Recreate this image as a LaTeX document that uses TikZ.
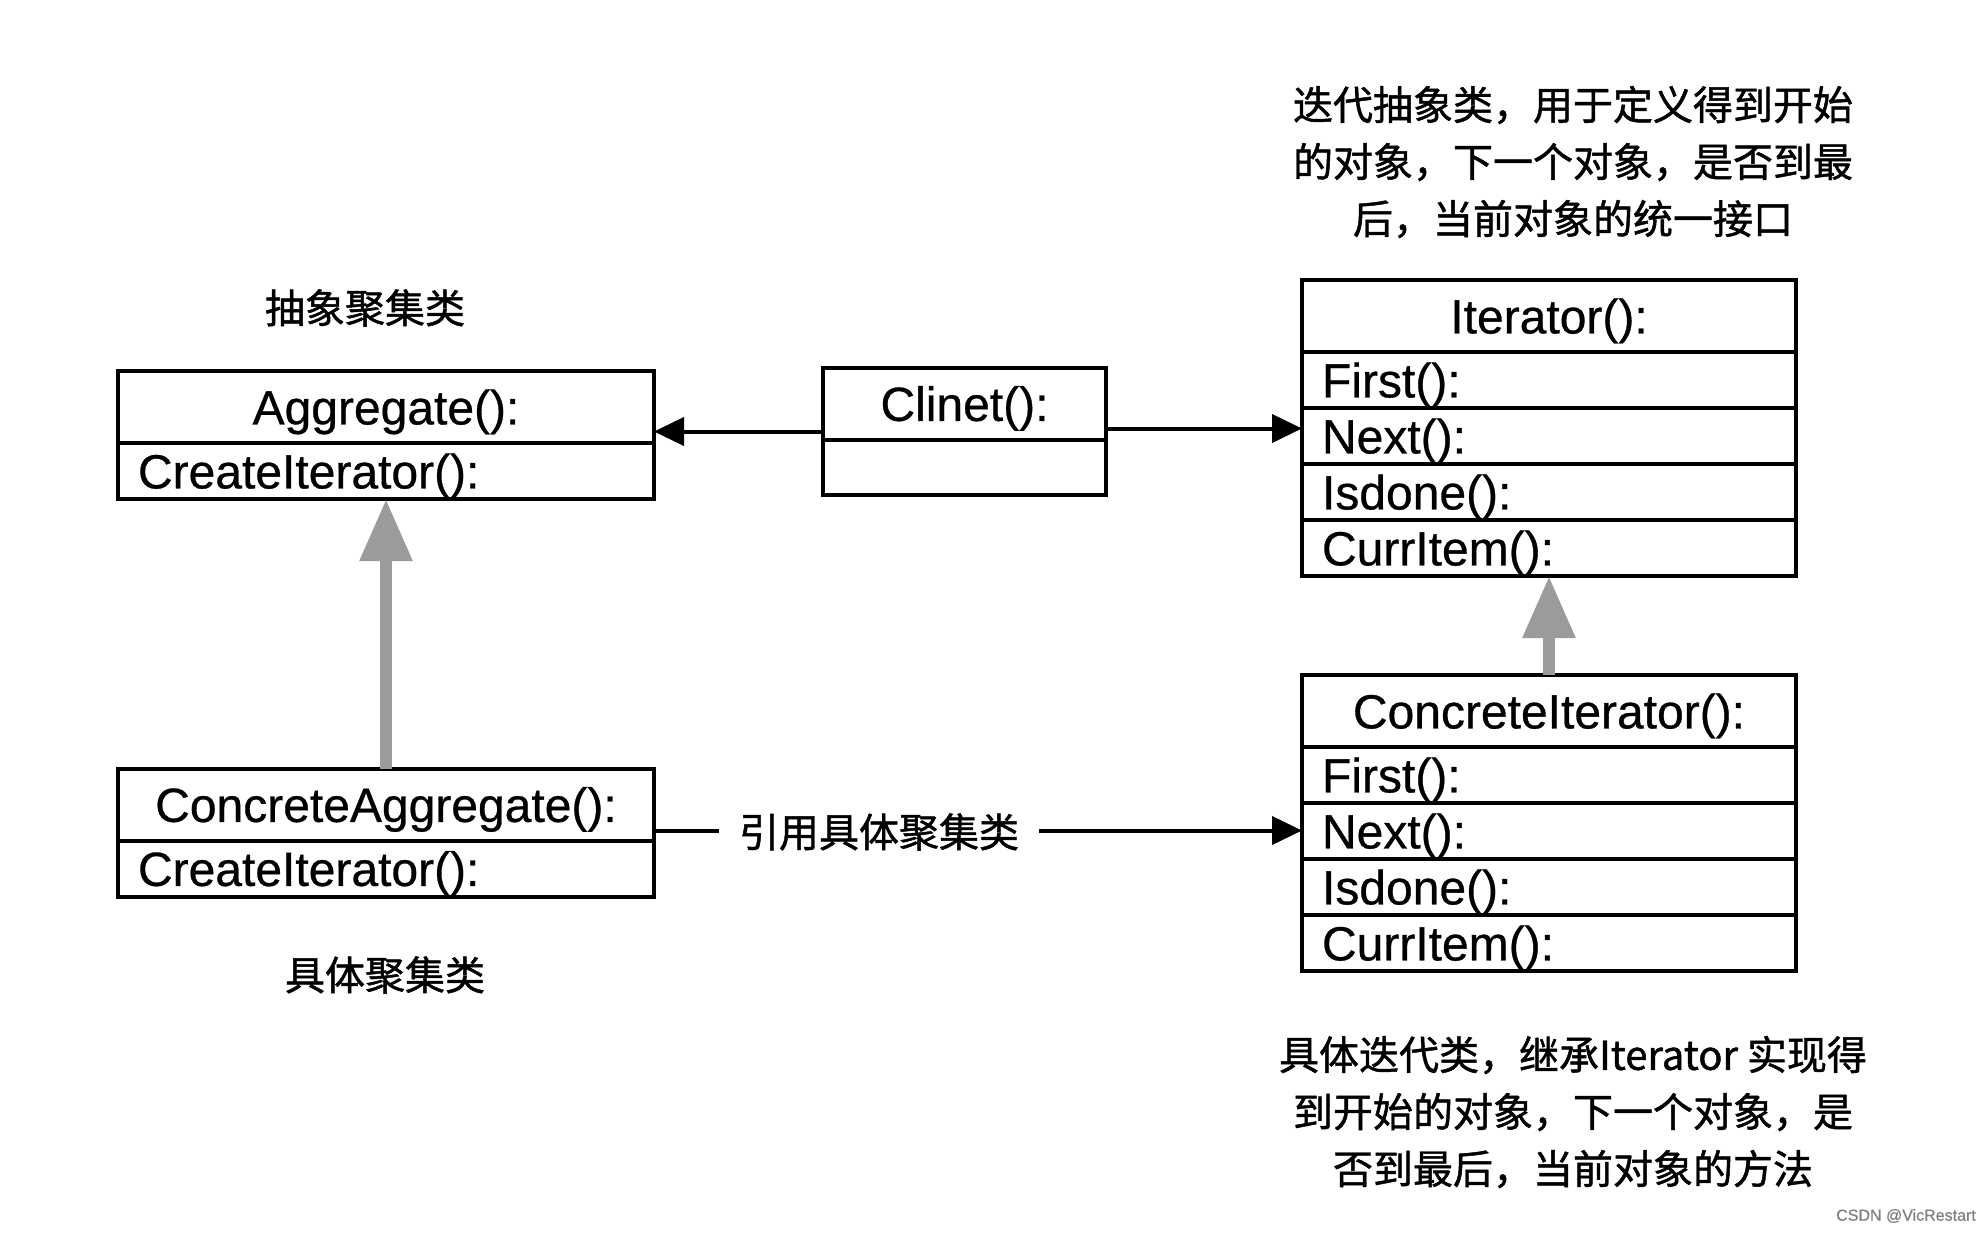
\documentclass[tikz,border=0pt]{standalone}
\usepackage{fontspec}
\setmainfont{Liberation Sans}[RawFeature={embolden=0.6}]
\newfontfamily\cjk{Noto Sans CJK SC}[RawFeature={embolden=1.2}]
\usetikzlibrary{arrows.meta,positioning}
\definecolor{inhgray}{HTML}{9B9B9B}
\tikzset{
  classtitle/.style={draw, line width=2pt, outer sep=0pt, inner sep=0pt, minimum height=36pt, minimum width=#1, text height=22.5pt, text depth=5.1pt},
  classrow/.style={draw, line width=2pt, outer sep=0pt, inner xsep=10pt, inner ysep=0pt, minimum height=28pt, text width=#1, align=left, text height=22.5pt, text depth=5.1pt},
  note/.style={font=\cjk\fontsize{20pt}{28.5pt}\selectfont, align=center, inner sep=0pt},
  ref/.style={line width=2pt, -{Triangle[length=15pt,width=14pt]}},
  inherit/.style={draw=inhgray, line width=6pt, -{Triangle[length=31pt,width=25pt,fill=inhgray]}}
}

\begin{document}
\begin{tikzpicture}[x=0.5pt, y=-0.5pt, font=\fontsize{24pt}{28pt}\selectfont]
    \useasboundingbox (0,0) rectangle (1986,1232);

    % aggregate side
    \node[classtitle=268pt](agg) at (386,407){Aggregate():};
    \node[classrow=248pt](agg1)[below=0pt of agg]{CreateIterator():};
    \node[classtitle=268pt](cagg) at (386,804.5){ConcreteAggregate():};
    \node[classrow=248pt](cagg1)[below=0pt of cagg]{CreateIterator():};

    % client
    \node[classtitle=141.5pt](cli) at (964.5,403.5){Clinet():};
    \node[classrow=121.5pt, minimum height=27.5pt](cli1)[below=0pt of cli]{};

    % iterator side
    \node[classtitle=247pt](it) at (1549,316){Iterator():};
    \node[classrow=227pt](it1)[below=0pt of it]{First():};
    \node[classrow=227pt](it2)[below=0pt of it1]{Next():};
    \node[classrow=227pt](it3)[below=0pt of it2]{Isdone():};
    \node[classrow=227pt](it4)[below=0pt of it3]{CurrItem():};
    \node[classtitle=247pt](cit) at (1549,711){ConcreteIterator():};
    \node[classrow=227pt](cit1)[below=0pt of cit]{First():};
    \node[classrow=227pt](cit2)[below=0pt of cit1]{Next():};
    \node[classrow=227pt](cit3)[below=0pt of cit2]{Isdone():};
    \node[classrow=227pt](cit4)[below=0pt of cit3]{CurrItem():};

    % notes
    \node[note](aggnote) at (365,308){抽象聚集类};
    \node[note](caggnote) at (385,975){具体聚集类};
    \node[note](itnote) at (1573,162){迭代抽象类，用于定义得到开始\\的对象，下一个对象，是否到最\\后，当前对象的统一接口};
    \node[note](citnote) at (1573,1112){具体迭代类，继承Iterator 实现得\\到开始的对象，下一个对象，是\\否到最后，当前对象的方法};
    \node[note, inner xsep=10pt](reflbl) at (879,832){引用具体聚集类};
    \node[text=gray, font=\fontsize{8pt}{9pt}\selectfont](mark) at (1906,1216){CSDN @VicRestart};

    % connectors
    \coordinate (cliL) at ([yshift=4pt]cli.south west);
    \coordinate (cliR) at ([yshift=5.5pt]cli.south east);
    \coordinate (caggR) at ([yshift=5pt]cagg.south east);
    \draw[ref] (cliL) -- (cliL -| agg.east);
    \draw[ref] (cliR) -- (cliR -| it.west);
    \draw[line width=2pt] (caggR) -- (caggR -| reflbl.west);
    \draw[ref] (caggR -| reflbl.east) -- (caggR -| cit.west);
    \draw[inherit] (cagg.north) -- (agg1.south);
    \draw[inherit] (cit.north) -- (it4.south);
\end{tikzpicture}
\end{document}
